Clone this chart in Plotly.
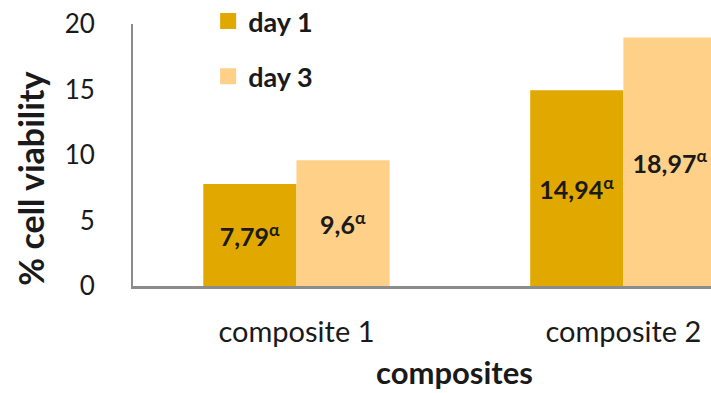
import plotly.graph_objects as go

categories = ["composite 1", "composite 2"]
day1 = [7.79, 14.94]
day3 = [9.6, 18.97]
day1_labels = ["7,79", "14,94"]
day3_labels = ["9,6", "18,97"]
series_names = ["day 1", "day 3"]
y_ticks = [0, 5, 10, 15, 20]
x_title = "composites"
y_title = "% cell viability"

C1 = "#E1A900"
C3 = "#FFD088"
FONT = "Lato"
TXT = "#1a1a1a"

fig = go.Figure()
for name, vals, labs, col in [(series_names[0], day1, day1_labels, C1),
                               (series_names[1], day3, day3_labels, C3)]:
    fig.add_trace(go.Bar(
        x=categories, y=vals, name=name, marker=dict(color=col, line=dict(width=0)),
        text=[f"{l}<sup>α</sup>" for l in labs], textposition="inside",
        insidetextanchor="middle", textangle=0,
        textfont=dict(family=FONT, size=25, color=TXT, weight="bold"),
        showlegend=False, hoverinfo="skip"))
    fig.add_trace(go.Scatter(
        x=[None], y=[None], mode="markers", name=name,
        marker=dict(symbol="square", size=16, color=col),
        legendgroup=name, showlegend=True))

fig.update_layout(
    width=711, height=393,
    margin=dict(l=133, r=0, t=24, b=107, autoexpand=False),
    plot_bgcolor="white", paper_bgcolor="white",
    barmode="group", bargap=0.43, bargroupgap=0,
    font=dict(family=FONT, color=TXT),
    legend=dict(x=0.13, y=1.103, xanchor="left", yanchor="top",
                font=dict(family=FONT, size=27, color=TXT, weight="bold"),
                tracegroupgap=17, bgcolor="rgba(0,0,0,0)",
                itemwidth=30),
    xaxis=dict(range=[-0.5, 1.268], showline=True, linecolor="#8C8C8C", linewidth=3,
               showgrid=False, zeroline=False, ticks="", ticklabelstandoff=18,
               tickfont=dict(family=FONT, size=29, color=TXT)),
    yaxis=dict(range=[0, 20], tickvals=y_ticks, showline=True, linecolor="#8C8C8C",
               linewidth=2, showgrid=False, zeroline=False, ticks="",
               ticklabelstandoff=31,
               tickfont=dict(family=FONT, size=26, color=TXT)),
    annotations=[
        dict(text=x_title, xref="paper", yref="paper", x=0.557, y=-0.33,
             xanchor="center", yanchor="middle", showarrow=False,
             font=dict(family=FONT, size=31, color=TXT, weight="bold")),
        dict(text=y_title, xref="paper", yref="paper", x=-0.178, y=0.41,
             xanchor="center", yanchor="middle", showarrow=False, textangle=-90,
             font=dict(family=FONT, size=34, color=TXT, weight="bold")),
    ],
)

fig.write_html("out.html")
